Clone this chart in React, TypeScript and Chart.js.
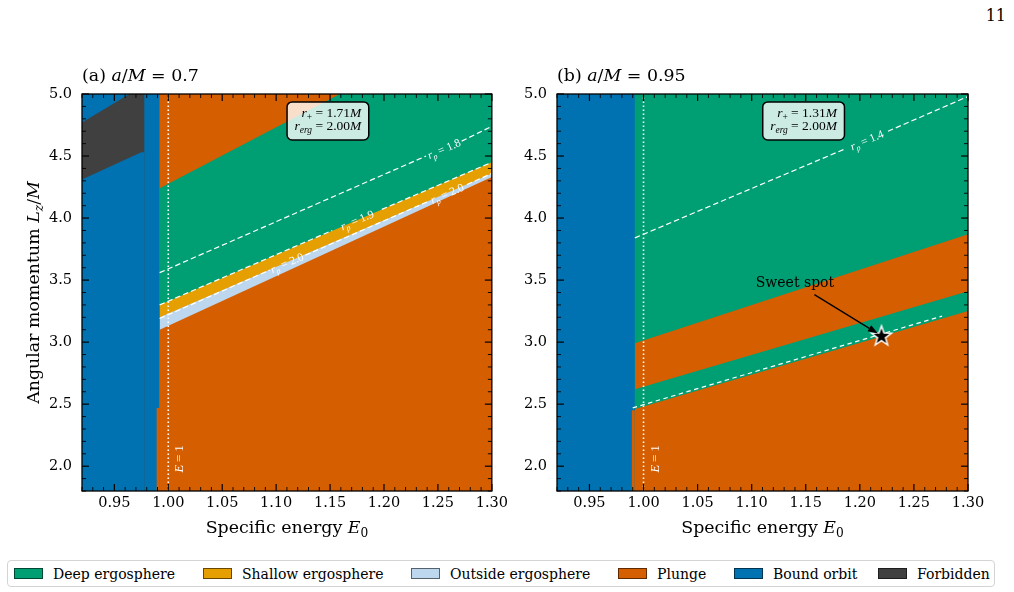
import React, { useEffect, useRef } from "react";
import { Chart, registerables } from "chart.js";

Chart.register(...registerables);

const SERIF = '"DejaVu Serif", serif';
const MATH = '"Liberation Serif", "DejaVu Serif", serif';

// ---------- axes ----------
const E_MIN = 0.92;
const E_MAX = 1.3;
const L_MIN = 1.8;
const L_MAX = 5.0;
const X_TICKS = [0.95, 1.0, 1.05, 1.1, 1.15, 1.2, 1.25, 1.3];
const Y_TICKS = [2.0, 2.5, 3.0, 3.5, 4.0, 4.5, 5.0];
const X_MINOR_STEP = 0.01;
const Y_MINOR_STEP = 0.1;

// ---------- colours ----------
const C_DEEP = "#009E73";
const C_SHALLOW = "#E69F00";
const C_OUTSIDE = "#BDD7EE";
const C_PLUNGE = "#D55E00";
const C_BOUND = "#0072B2";
const C_FORBID = "#404040";

// ---------- panel texts ----------
const SPIN = [0.7, 0.95];
const R_HORIZON = [1.71, 1.31];
const R_ERGO = [2.0, 2.0];
const E_UNIT = [1.0, 1.0];

// ---------- panel (a) a/M = 0.7 : top edge of each colour layer ----------
const A_BG_E = [0.92, 1.3];
const A_BG_L = [5.0, 5.0];
const A_DEEP_E = [0.992, 1.159, 1.3];
const A_DEEP_L = [4.24, 5.0, 5.0];
const A_SHALLOW_E = [0.992, 1.3];
const A_SHALLOW_L = [3.3, 4.45];
const A_OUTSIDE_E = [0.992, 1.3];
const A_OUTSIDE_L = [3.2, 4.36];
const A_PLUNGE_E = [0.992, 1.3];
const A_PLUNGE_L = [3.1, 4.33];
const A_BOUND_E = [0.92, 0.992];
const A_BOUND_L = [5.0, 5.0];
const A_NOTCH_E = [0.989, 0.992];
const A_NOTCH_L = [2.47, 2.47];
const A_FORBID_E = [0.92, 0.964, 0.978];
const A_FORBID_L = [4.77, 5.0, 5.0];
const A_FORBID_LOW_E = [0.92, 0.975, 0.978];
const A_FORBID_LOW_L = [4.31, 4.53, 4.53];

// contour lines r_p (null = gap for the inline label)
const A_RP18_E = [0.992, 1.239, null, 1.272, 1.3];
const A_RP18_L = [3.56, 4.5, null, 4.62, 4.74];
const A_RP19_E = [0.992, 1.152, null, 1.198, 1.3];
const A_RP19_L = [3.3, 3.9, null, 4.07, 4.45];
const A_RP20_E = [0.992, 1.094, null, 1.127, 1.24, null, 1.277, 1.3];
const A_RP20_L = [3.19, 3.58, null, 3.7, 4.13, null, 4.27, 4.36];
const A_LABEL_TEXT = ["1.8", "1.9", "2.0", "2.0"];
const A_LABEL_E = [1.2555, 1.175, 1.2585, 1.11];
const A_LABEL_L = [4.56, 3.985, 4.2, 3.64];

// ---------- panel (b) a/M = 0.95 ----------
const B_BG_E = [0.92, 1.3];
const B_BG_L = [5.0, 5.0];
const B_PLUNGE_UP_E = [0.992, 1.3];
const B_PLUNGE_UP_L = [2.99, 3.87];
const B_DEEP_LOW_E = [0.992, 1.3];
const B_DEEP_LOW_L = [2.62, 3.41];
const B_PLUNGE_LOW_E = [0.992, 1.3];
const B_PLUNGE_LOW_L = [2.46, 3.25];
const B_BOUND_E = [0.92, 0.992];
const B_BOUND_L = [5.0, 5.0];
const B_NOTCH_E = [0.989, 0.992];
const B_NOTCH_L = [2.45, 2.45];
const B_RP14_E = [0.992, 1.187, null, 1.226, 1.3];
const B_RP14_L = [3.84, 4.56, null, 4.7, 4.98];
const B_RPLOW_E = [0.99, 1.276];
const B_RPLOW_L = [2.47, 3.21];
const B_LABEL_TEXT = ["1.4"];
const B_LABEL_E = [1.2065];
const B_LABEL_L = [4.63];
const SWEET_E = [1.22];
const SWEET_L = [3.05];
const SWEET_TEXT_EL = [1.14, 3.447];
const SWEET_ARROW_FROM = [1.158, 3.383];
const SWEET_ARROW_TO = [1.2167, 3.069];

// ---------- legend ----------
const LEGEND_LABELS = ["Deep ergosphere", "Shallow ergosphere", "Outside ergosphere", "Plunge", "Bound orbit", "Forbidden"];
const LEGEND_COLORS = [C_DEEP, C_SHALLOW, C_OUTSIDE, C_PLUNGE, C_BOUND, C_FORBID];
const LEGEND_X = [6, 195, 403, 610, 726, 870];

type Run = { t: string; it?: boolean; sub?: boolean };
type Arr = (number | null)[];
type Layer = { e: Arr; l: Arr; c: string };
type Line = { e: Arr; l: Arr; dash: number[]; w: number };
type CLabel = { text: string; e: number; l: number; le: Arr; ll: Arr };

interface Panel {
  tag: string;
  idx: number;
  canvasW: number;
  yAxisW: number;
  padRight: number;
  yTitle: boolean;
  layers: Layer[];
  lines: Line[];
  labels: CLabel[];
  sweet: boolean;
}

function runFont(r: Run, size: number, fam: string) {
  const s = r.sub ? size * 0.7 : size;
  return `${r.it ? "italic " : ""}${s}px ${fam}`;
}
function richWidth(ctx: CanvasRenderingContext2D, runs: Run[], size: number, fam: string) {
  let w = 0;
  for (const r of runs) {
    ctx.font = runFont(r, size, fam);
    w += ctx.measureText(r.t).width;
  }
  return w;
}
function drawRich(ctx: CanvasRenderingContext2D, runs: Run[], x: number, y: number, size: number, fam: string, align: string, color: string) {
  const w = richWidth(ctx, runs, size, fam);
  let cx = align === "center" ? x - w / 2 : align === "right" ? x - w : x;
  ctx.fillStyle = color;
  ctx.textAlign = "left";
  ctx.textBaseline = "alphabetic";
  for (const r of runs) {
    ctx.font = runFont(r, size, fam);
    ctx.fillText(r.t, cx, y + (r.sub ? size * 0.22 : 0));
    cx += ctx.measureText(r.t).width;
  }
}

function firstLast(e: Arr, l: Arr) {
  const pts: number[][] = [];
  e.forEach((x, i) => {
    if (x !== null && l[i] !== null) pts.push([x as number, l[i] as number]);
  });
  return [pts[0], pts[pts.length - 1]];
}

function makeStar(): HTMLCanvasElement {
  const c = document.createElement("canvas");
  c.width = 26;
  c.height = 26;
  const g = c.getContext("2d") as CanvasRenderingContext2D;
  g.beginPath();
  for (let i = 0; i < 10; i++) {
    const r = i % 2 === 0 ? 10.5 : 4.2;
    const a = -Math.PI / 2 + (i * Math.PI) / 5;
    const x = 13 + r * Math.cos(a);
    const y = 13.5 + r * Math.sin(a);
    if (i === 0) g.moveTo(x, y);
    else g.lineTo(x, y);
  }
  g.closePath();
  g.fillStyle = "#000";
  g.fill();
  g.strokeStyle = "#fff";
  g.lineWidth = 1.5;
  g.stroke();
  return c;
}

const PANEL_A: Panel = {
  tag: "(a) ",
  idx: 0,
  canvasW: 512,
  yAxisW: 82,
  padRight: 18,
  yTitle: true,
  layers: [
    { e: A_BG_E, l: A_BG_L, c: C_PLUNGE },
    { e: A_DEEP_E, l: A_DEEP_L, c: C_DEEP },
    { e: A_SHALLOW_E, l: A_SHALLOW_L, c: C_SHALLOW },
    { e: A_OUTSIDE_E, l: A_OUTSIDE_L, c: C_OUTSIDE },
    { e: A_PLUNGE_E, l: A_PLUNGE_L, c: C_PLUNGE },
    { e: A_BOUND_E, l: A_BOUND_L, c: C_BOUND },
    { e: A_NOTCH_E, l: A_NOTCH_L, c: C_PLUNGE },
    { e: A_FORBID_E, l: A_FORBID_L, c: C_FORBID },
    { e: A_FORBID_LOW_E, l: A_FORBID_LOW_L, c: C_BOUND },
  ],
  lines: [
    { e: A_RP18_E, l: A_RP18_L, dash: [5.5, 3], w: 1.2 },
    { e: A_RP19_E, l: A_RP19_L, dash: [5.5, 3], w: 1.2 },
    { e: A_RP20_E, l: A_RP20_L, dash: [5.5, 3], w: 1.2 },
  ],
  labels: [
    { text: A_LABEL_TEXT[0], e: A_LABEL_E[0], l: A_LABEL_L[0], le: A_RP18_E, ll: A_RP18_L },
    { text: A_LABEL_TEXT[1], e: A_LABEL_E[1], l: A_LABEL_L[1], le: A_RP19_E, ll: A_RP19_L },
    { text: A_LABEL_TEXT[2], e: A_LABEL_E[2], l: A_LABEL_L[2], le: A_RP20_E, ll: A_RP20_L },
    { text: A_LABEL_TEXT[3], e: A_LABEL_E[3], l: A_LABEL_L[3], le: A_RP20_E, ll: A_RP20_L },
  ],
  sweet: false,
};

const PANEL_B: Panel = {
  tag: "(b) ",
  idx: 1,
  canvasW: 502,
  yAxisW: 45,
  padRight: 46,
  yTitle: false,
  layers: [
    { e: B_BG_E, l: B_BG_L, c: C_DEEP },
    { e: B_PLUNGE_UP_E, l: B_PLUNGE_UP_L, c: C_PLUNGE },
    { e: B_DEEP_LOW_E, l: B_DEEP_LOW_L, c: C_DEEP },
    { e: B_PLUNGE_LOW_E, l: B_PLUNGE_LOW_L, c: C_PLUNGE },
    { e: B_BOUND_E, l: B_BOUND_L, c: C_BOUND },
    { e: B_NOTCH_E, l: B_NOTCH_L, c: C_PLUNGE },
  ],
  lines: [
    { e: B_RP14_E, l: B_RP14_L, dash: [5.5, 3], w: 1.2 },
    { e: B_RPLOW_E, l: B_RPLOW_L, dash: [4.5, 3.5], w: 1.2 },
  ],
  labels: [{ text: B_LABEL_TEXT[0], e: B_LABEL_E[0], l: B_LABEL_L[0], le: B_RP14_E, ll: B_RP14_L }],
  sweet: true,
};

function makeConfig(p: Panel, star: HTMLCanvasElement): any {
  const ds: any[] = [];
  const n = p.layers.length;
  p.layers.forEach((ly, i) => {
    ds.push({
      data: ly.e.map((x, j) => ({ x, y: ly.l[j] })),
      backgroundColor: ly.c,
      borderColor: "rgba(0,0,0,0)",
      borderWidth: 0,
      pointRadius: 0,
      fill: "start",
      order: 100 + n - i,
    });
  });
  // E = 1 dotted line
  ds.push({
    data: [
      { x: E_UNIT[p.idx], y: L_MIN },
      { x: E_UNIT[p.idx], y: L_MAX },
    ],
    borderColor: "#ffffff",
    borderWidth: 1.6,
    borderDash: [1.6, 2.4],
    pointRadius: 0,
    fill: false,
    order: 5,
  });
  p.lines.forEach((ln) => {
    let seg: any[] = [];
    const flush = () => {
      if (seg.length > 1)
        ds.push({
          data: seg,
          borderColor: "#ffffff",
          borderWidth: ln.w,
          borderDash: ln.dash,
          pointRadius: 0,
          fill: false,
          order: 4,
        });
      seg = [];
    };
    ln.e.forEach((x, j) => {
      if (x === null || ln.l[j] === null) flush();
      else seg.push({ x, y: ln.l[j] });
    });
    flush();
  });
  if (p.sweet) {
    ds.push({
      data: SWEET_E.map((x, j) => ({ x, y: SWEET_L[j] })),
      showLine: false,
      pointRadius: 11,
      pointStyle: star,
      fill: false,
      order: 1,
    });
  }

  const overlay = {
    id: "overlay" + p.idx,
    afterDraw(chart: any) {
      const ctx: CanvasRenderingContext2D = chart.ctx;
      const xs = chart.scales.x;
      const ys = chart.scales.y;
      const ca = chart.chartArea;
      const X = (v: number) => xs.getPixelForValue(v);
      const Y = (v: number) => ys.getPixelForValue(v);
      ctx.save();
      ctx.beginPath();
      ctx.rect(ca.left, ca.top, ca.right - ca.left, ca.bottom - ca.top);
      ctx.clip();

      // contour labels
      p.labels.forEach((lb) => {
        const [a, b] = firstLast(lb.le, lb.ll);
        const ang = Math.atan2(Y(b[1]) - Y(a[1]), X(b[0]) - X(a[0]));
        ctx.save();
        ctx.translate(X(lb.e), Y(lb.l));
        ctx.rotate(ang);
        drawRich(ctx, [{ t: "r", it: true }, { t: "p", it: true, sub: true }, { t: " = " + lb.text }], 0, 4, 11.5, MATH, "center", "#ffffff");
        ctx.restore();
      });

      // E = 1 label
      ctx.save();
      ctx.translate(X(E_UNIT[p.idx]) + 15, Y(1.95));
      ctx.rotate(-Math.PI / 2);
      drawRich(ctx, [{ t: "E", it: true }, { t: " = 1" }], 0, 0, 12.5, MATH, "left", "#ffffff");
      ctx.restore();

      // info box
      const lines: Run[][] = [
        [{ t: "r", it: true }, { t: "+", sub: true }, { t: " = " + R_HORIZON[p.idx].toFixed(2) }, { t: "M", it: true }],
        [{ t: "r", it: true }, { t: "erg", it: true, sub: true }, { t: " = " + R_ERGO[p.idx].toFixed(2) }, { t: "M", it: true }],
      ];
      const fs = 13.5;
      const maxW = Math.max(...lines.map((r) => richWidth(ctx, r, fs, MATH)));
      const bw = maxW + 15;
      const bh = 38;
      const cx = ca.left + 0.6 * (ca.right - ca.left);
      const bx = cx - bw / 2;
      const by = ca.bottom - 0.98 * (ca.bottom - ca.top);
      const rr = 5;
      ctx.beginPath();
      ctx.moveTo(bx + rr, by);
      ctx.lineTo(bx + bw - rr, by);
      ctx.arcTo(bx + bw, by, bx + bw, by + rr, rr);
      ctx.lineTo(bx + bw, by + bh - rr);
      ctx.arcTo(bx + bw, by + bh, bx + bw - rr, by + bh, rr);
      ctx.lineTo(bx + rr, by + bh);
      ctx.arcTo(bx, by + bh, bx, by + bh - rr, rr);
      ctx.lineTo(bx, by + rr);
      ctx.arcTo(bx, by, bx + rr, by, rr);
      ctx.closePath();
      ctx.fillStyle = "rgba(255,255,255,0.8)";
      ctx.fill();
      ctx.strokeStyle = "#000";
      ctx.lineWidth = 1.5;
      ctx.stroke();
      drawRich(ctx, lines[0], bx + bw - 7.5, by + 15, fs, MATH, "right", "#000");
      drawRich(ctx, lines[1], bx + bw - 7.5, by + 28.5, fs, MATH, "right", "#000");

      // sweet spot annotation
      if (p.sweet) {
        const x0 = X(SWEET_ARROW_FROM[0]);
        const y0 = Y(SWEET_ARROW_FROM[1]);
        const x1 = X(SWEET_ARROW_TO[0]);
        const y1 = Y(SWEET_ARROW_TO[1]);
        const ang = Math.atan2(y1 - y0, x1 - x0);
        const hl = 10;
        const hw = 3.5;
        ctx.strokeStyle = "#000";
        ctx.lineWidth = 1.3;
        ctx.beginPath();
        ctx.moveTo(x0, y0);
        ctx.lineTo(x1 - hl * Math.cos(ang), y1 - hl * Math.sin(ang));
        ctx.stroke();
        ctx.beginPath();
        ctx.moveTo(x1, y1);
        ctx.lineTo(x1 - hl * Math.cos(ang) + hw * Math.sin(ang), y1 - hl * Math.sin(ang) - hw * Math.cos(ang));
        ctx.lineTo(x1 - hl * Math.cos(ang) - hw * Math.sin(ang), y1 - hl * Math.sin(ang) + hw * Math.cos(ang));
        ctx.closePath();
        ctx.fillStyle = "#000";
        ctx.fill();
        drawRich(ctx, [{ t: "Sweet spot" }], X(SWEET_TEXT_EL[0]), Y(SWEET_TEXT_EL[1]), 14, SERIF, "center", "#000");
      }
      ctx.restore();

      // frame and ticks (inward, all sides)
      ctx.save();
      ctx.strokeStyle = "#000";
      ctx.lineWidth = 1.3;
      ctx.strokeRect(ca.left, ca.top, ca.right - ca.left, ca.bottom - ca.top);
      const tick = (x0: number, y0: number, x1: number, y1: number, w: number) => {
        ctx.lineWidth = w;
        ctx.beginPath();
        ctx.moveTo(x0, y0);
        ctx.lineTo(x1, y1);
        ctx.stroke();
      };
      const nx = Math.round((E_MAX - E_MIN) / X_MINOR_STEP);
      for (let k = 0; k <= nx; k++) {
        const v = E_MIN + k * X_MINOR_STEP;
        const major = X_TICKS.some((t) => Math.abs(t - v) < 1e-6);
        const len = major ? 7 : 4;
        const px = X(v);
        tick(px, ca.bottom, px, ca.bottom - len, major ? 1.2 : 0.9);
        tick(px, ca.top, px, ca.top + len, major ? 1.2 : 0.9);
      }
      const ny = Math.round((L_MAX - L_MIN) / Y_MINOR_STEP);
      for (let k = 0; k <= ny; k++) {
        const v = L_MIN + k * Y_MINOR_STEP;
        const major = Y_TICKS.some((t) => Math.abs(t - v) < 1e-6);
        const len = major ? 7 : 4;
        const py = Y(v);
        tick(ca.left, py, ca.left + len, py, major ? 1.2 : 0.9);
        tick(ca.right, py, ca.right - len, py, major ? 1.2 : 0.9);
      }
      ctx.restore();

      // titles
      ctx.save();
      drawRich(
        ctx,
        [{ t: p.tag }, { t: "a", it: true }, { t: "/" }, { t: "M", it: true }, { t: " = " + SPIN[p.idx] }],
        ca.left,
        ca.top - 13,
        17.4,
        SERIF,
        "left",
        "#000"
      );
      drawRich(
        ctx,
        [{ t: "Specific energy " }, { t: "E", it: true }, { t: "0", sub: true }],
        (ca.left + ca.right) / 2,
        ca.bottom + 42,
        17.4,
        SERIF,
        "center",
        "#000"
      );
      if (p.yTitle) {
        ctx.translate(39, (ca.top + ca.bottom) / 2);
        ctx.rotate(-Math.PI / 2);
        drawRich(
          ctx,
          [{ t: "Angular momentum " }, { t: "L", it: true }, { t: "z", it: true, sub: true }, { t: "/" }, { t: "M", it: true }],
          0,
          0,
          17.4,
          SERIF,
          "center",
          "#000"
        );
      }
      ctx.restore();
    },
  };

  return {
    type: "line",
    data: { datasets: ds },
    options: {
      animation: false,
      responsive: false,
      maintainAspectRatio: false,
      devicePixelRatio: 1,
      layout: { autoPadding: false, padding: { top: 34, right: p.padRight, left: 0, bottom: 0 } },
      plugins: { legend: { display: false }, tooltip: { enabled: false }, title: { display: false } },
      events: [],
      scales: {
        x: {
          type: "linear",
          min: E_MIN,
          max: E_MAX,
          bounds: "data",
          afterBuildTicks: (s: any) => {
            s.ticks = X_TICKS.map((v) => ({ value: v }));
          },
          afterFit: (s: any) => {
            s.height = 59;
          },
          grid: { display: false, drawTicks: false },
          border: { display: false },
          ticks: {
            font: { family: SERIF, size: 14.5 },
            color: "#000",
            padding: 4,
            maxRotation: 0,
            autoSkip: false,
            callback: (v: any) => Number(v).toFixed(2),
          },
        },
        y: {
          type: "linear",
          min: L_MIN,
          max: L_MAX,
          bounds: "data",
          afterBuildTicks: (s: any) => {
            s.ticks = Y_TICKS.map((v) => ({ value: v }));
          },
          afterFit: (s: any) => {
            s.width = p.yAxisW;
          },
          grid: { display: false, drawTicks: false },
          border: { display: false },
          ticks: {
            font: { family: SERIF, size: 14.5 },
            color: "#000",
            padding: 10,
            autoSkip: false,
            callback: (v: any) => Number(v).toFixed(1),
          },
        },
      },
    },
    plugins: [overlay],
  };
}

export default function App() {
  const refA = useRef<HTMLCanvasElement>(null);
  const refB = useRef<HTMLCanvasElement>(null);
  useEffect(() => {
    const star = makeStar();
    const ca = new Chart(refA.current as HTMLCanvasElement, makeConfig(PANEL_A, star));
    const cb = new Chart(refB.current as HTMLCanvasElement, makeConfig(PANEL_B, star));
    return () => {
      ca.destroy();
      cb.destroy();
    };
  }, []);
  return (
    <div style={{ position: "absolute", left: 0, top: 0, width: 1014, height: 592, background: "#fff", overflow: "hidden" }}>
      <div style={{ position: "absolute", right: 8, top: 6, fontFamily: SERIF, fontSize: 16, color: "#000" }}>11</div>
      <canvas ref={refA} width={512} height={490} style={{ position: "absolute", left: 0, top: 60 }} />
      <canvas ref={refB} width={502} height={490} style={{ position: "absolute", left: 512, top: 60 }} />
      <div
        style={{
          position: "absolute",
          left: 7,
          top: 560,
          width: 988,
          height: 27,
          boxSizing: "border-box",
          border: "1px solid #d4d4d4",
          borderRadius: 4,
          background: "#fff",
          fontFamily: SERIF,
          fontSize: 14,
          color: "#000",
        }}
      >
        {LEGEND_LABELS.map((lab, i) => (
          <div
            key={lab}
            style={{ position: "absolute", left: LEGEND_X[i], top: 0, height: 25, display: "flex", alignItems: "center", whiteSpace: "nowrap" }}
          >
            <span
              style={{
                display: "inline-block",
                width: 29,
                height: 11,
                boxSizing: "border-box",
                background: LEGEND_COLORS[i],
                border: "1px solid rgba(0,0,0,0.55)",
                marginRight: 10,
              }}
            />
            <span>{lab}</span>
          </div>
        ))}
      </div>
    </div>
  );
}
